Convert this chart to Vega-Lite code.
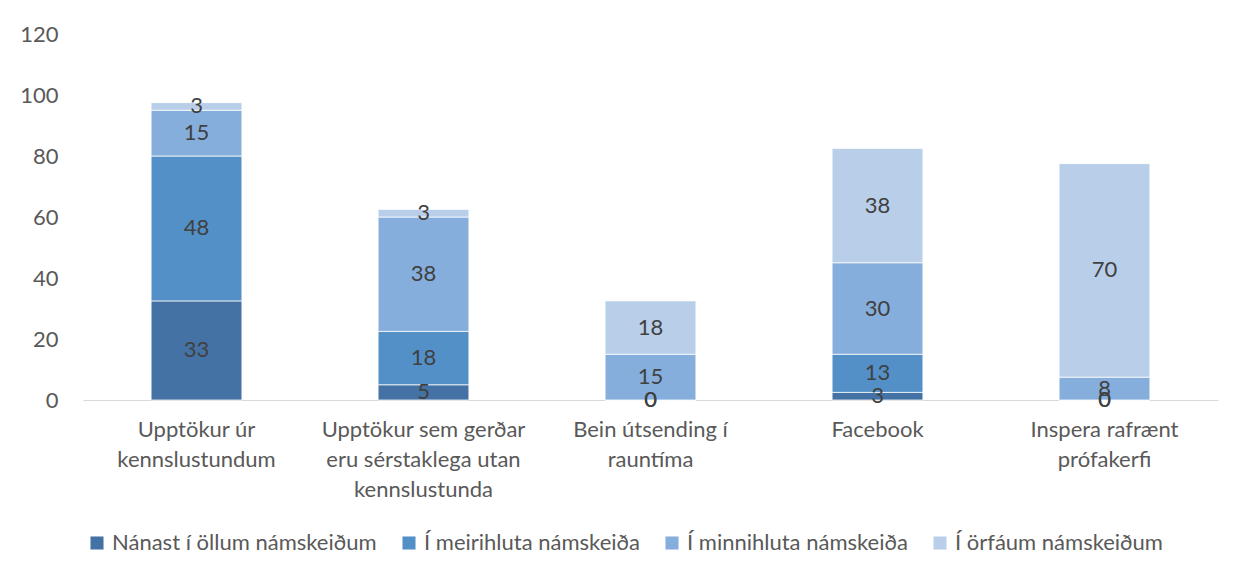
{
  "$schema": "https://vega.github.io/schema/vega-lite/v6.json",
  "width": 1135,
  "height": 366,
  "autosize": {"type": "none"},
  "padding": {"left": 83, "top": 34, "right": 30, "bottom": 181},
  "background": "white",
  "config": {"view": {"stroke": null}, "font": "Lato"},
  "data": {
    "values": [
      {"cat": "Upptökur úr kennslustundum", "series": "Nánast í öllum námskeiðum", "ord": 1, "value": 32.5},
      {"cat": "Upptökur úr kennslustundum", "series": "Í meirihluta námskeiða", "ord": 2, "value": 47.5},
      {"cat": "Upptökur úr kennslustundum", "series": "Í minnihluta námskeiða", "ord": 3, "value": 15},
      {"cat": "Upptökur úr kennslustundum", "series": "Í örfáum námskeiðum", "ord": 4, "value": 2.5},
      {"cat": "Upptökur sem gerðar eru sérstaklega utan kennslustunda", "series": "Nánast í öllum námskeiðum", "ord": 1, "value": 5},
      {"cat": "Upptökur sem gerðar eru sérstaklega utan kennslustunda", "series": "Í meirihluta námskeiða", "ord": 2, "value": 17.5},
      {"cat": "Upptökur sem gerðar eru sérstaklega utan kennslustunda", "series": "Í minnihluta námskeiða", "ord": 3, "value": 37.5},
      {"cat": "Upptökur sem gerðar eru sérstaklega utan kennslustunda", "series": "Í örfáum námskeiðum", "ord": 4, "value": 2.5},
      {"cat": "Bein útsending í rauntíma", "series": "Nánast í öllum námskeiðum", "ord": 1, "value": 0},
      {"cat": "Bein útsending í rauntíma", "series": "Í meirihluta námskeiða", "ord": 2, "value": 0},
      {"cat": "Bein útsending í rauntíma", "series": "Í minnihluta námskeiða", "ord": 3, "value": 15},
      {"cat": "Bein útsending í rauntíma", "series": "Í örfáum námskeiðum", "ord": 4, "value": 17.5},
      {"cat": "Facebook", "series": "Nánast í öllum námskeiðum", "ord": 1, "value": 2.5},
      {"cat": "Facebook", "series": "Í meirihluta námskeiða", "ord": 2, "value": 12.5},
      {"cat": "Facebook", "series": "Í minnihluta námskeiða", "ord": 3, "value": 30},
      {"cat": "Facebook", "series": "Í örfáum námskeiðum", "ord": 4, "value": 37.5},
      {"cat": "Inspera rafrænt prófakerfi", "series": "Nánast í öllum námskeiðum", "ord": 1, "value": 0},
      {"cat": "Inspera rafrænt prófakerfi", "series": "Í meirihluta námskeiða", "ord": 2, "value": 0},
      {"cat": "Inspera rafrænt prófakerfi", "series": "Í minnihluta námskeiða", "ord": 3, "value": 7.5},
      {"cat": "Inspera rafrænt prófakerfi", "series": "Í örfáum námskeiðum", "ord": 4, "value": 70}
    ]
  },
  "transform": [
    {"stack": "value", "groupby": ["cat"], "sort": [{"field": "ord", "order": "ascending"}], "as": ["y0", "y1"]},
    {"calculate": "(datum.y0 + datum.y1) / 2", "as": "mid"}
  ],
  "encoding": {
    "x": {
      "field": "cat",
      "type": "nominal",
      "sort": ["Upptökur úr kennslustundum", "Upptökur sem gerðar eru sérstaklega utan kennslustunda", "Bein útsending í rauntíma", "Facebook", "Inspera rafrænt prófakerfi"],
      "scale": {"paddingInner": 0.6, "paddingOuter": 0.3},
      "axis": {
        "title": null,
        "labelAngle": 0,
        "ticks": false,
        "domainColor": "#d9d9d9",
        "domainWidth": 1,
        "labelFontSize": 22,
        "labelColor": "#595959",
        "labelPadding": 19,
        "labelLineHeight": 30,
        "labelBaseline": "top",
        "labelLimit": 0,
        "labelExpr": "datum.value == 'Upptökur úr kennslustundum' ? ['Upptökur úr', 'kennslustundum'] : datum.value == 'Upptökur sem gerðar eru sérstaklega utan kennslustunda' ? ['Upptökur sem gerðar', 'eru sérstaklega utan', 'kennslustunda'] : datum.value == 'Bein útsending í rauntíma' ? ['Bein útsending í', 'rauntíma'] : datum.value == 'Inspera rafrænt prófakerfi' ? ['Inspera rafrænt', 'prófakerfi'] : datum.value"
      }
    }
  },
  "layer": [
    {
      "mark": {"type": "bar", "stroke": "white", "strokeWidth": 0.75},
      "encoding": {
        "y": {
          "field": "y1",
          "type": "quantitative",
          "scale": {"domain": [0, 120]},
          "axis": {
            "title": null,
            "values": [0, 20, 40, 60, 80, 100, 120],
            "grid": false,
            "ticks": false,
            "domain": false,
            "labelFontSize": 22,
            "labelColor": "#595959",
            "labelPadding": 25
          }
        },
        "y2": {"field": "y0"},
        "color": {
          "field": "series",
          "type": "nominal",
          "scale": {
            "domain": ["Nánast í öllum námskeiðum", "Í meirihluta námskeiða", "Í minnihluta námskeiða", "Í örfáum námskeiðum"],
            "range": ["#4472A4", "#5390C8", "#85AEDC", "#B8CEE9"]
          },
          "legend": {
            "title": null,
            "orient": "none",
            "direction": "horizontal",
            "columns": 4,
            "legendX": 3,
            "legendY": 498,
            "symbolType": "square",
            "symbolSize": 170,
            "symbolStrokeWidth": 0,
            "labelFontSize": 22,
            "labelColor": "#595959",
            "labelLimit": 0,
            "labelOffset": 4,
            "columnPadding": 21
          }
        }
      }
    },
    {
      "mark": {"type": "text", "fontSize": 22, "color": "#404040", "baseline": "middle"},
      "encoding": {
        "y": {"field": "mid", "type": "quantitative"},
        "text": {"field": "value", "type": "quantitative", "format": ".0f"}
      }
    }
  ]
}
